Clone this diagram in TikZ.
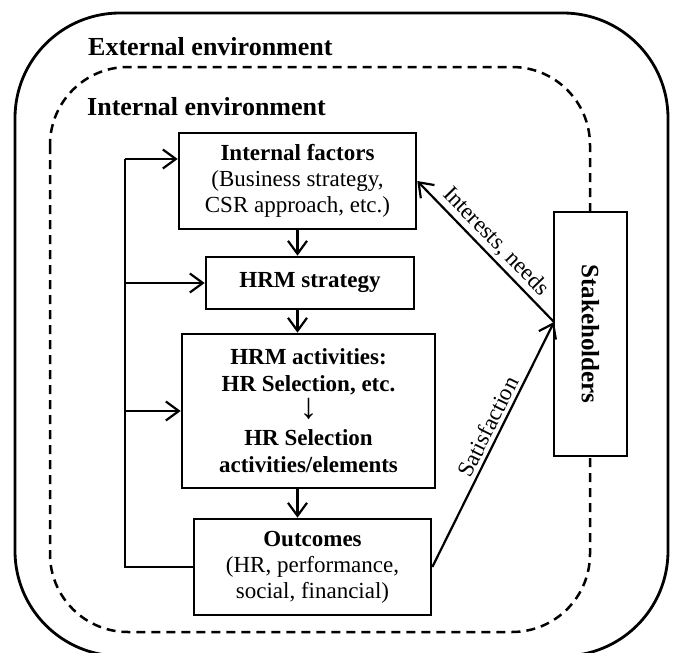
\documentclass[tikz,border=0pt]{standalone}
\usepackage{fontspec}
\setmainfont{Liberation Serif}
\usetikzlibrary{arrows.meta}
\tikzset{
  box/.style={draw, line width=2.6pt, fill=white, align=center, inner sep=0pt, font=\fontsize{23}{26}\selectfont},
  boldbox/.style={box, font=\fontsize{23}{27}\selectfont\bfseries},
  envlabel/.style={inner sep=0pt, font=\fontsize{26}{30}\selectfont\bfseries},
  arclabel/.style={font=\fontsize{23}{26}\selectfont},
  flow/.style={line width=2.2pt, -{Straight Barb[length=13pt,width=19pt]}},
  fback/.style={line width=1.4pt}
}
\begin{document}
\begin{tikzpicture}[x=1pt,y=-1pt]
    \clip (0,0) rectangle (675,653);
    \draw[line width=2.8pt, rounded corners=105pt] (15,13) rectangle (668,656);
    \draw[line width=2.5pt, dash pattern=on 9pt off 6pt, rounded corners=78pt] (50,67) rectangle (590,632);

    \node[envlabel, anchor=base west] (ext) at (88,55) {External environment};
    \node[envlabel, anchor=base west] (int) at (87,115) {Internal environment};

    \node[box, minimum width=237pt, minimum height=96pt] (factors) at (297.5,181) {\textbf{Internal factors}\\(Business strategy,\\CSR approach, etc.)};
    \node[boldbox, minimum width=208pt, minimum height=52pt] (strategy) at (310,283) {HRM strategy};
    \node[boldbox, minimum width=253pt, minimum height=154pt] (activities) at (308.5,411) {HRM activities:\\HR Selection, etc.\\\smash{\fontsize{36}{27}\selectfont ↓}\\HR Selection\\activities/elements};
    \node[box, minimum width=237pt, minimum height=96pt] (outcomes) at (312.5,567) {\textbf{Outcomes}\\(HR, performance,\\social, financial)};
    \node[box, minimum width=73pt, minimum height=244pt] (stake) at (590.5,334) {};
    \node[rotate=-90, font=\fontsize{25}{28}\selectfont\bfseries] (staketext) at (stake) {Stakeholders};

    \coordinate (meet) at (554,322);
    \coordinate (fbtop) at (125,159);
    \coordinate (fbbot) at (125,567);

    \draw[flow] (factors.south) -- (factors.south |- strategy.north);
    \draw[flow] (strategy.south -| factors.south) -- (activities.north -| factors.south);
    \draw[flow] (activities.south -| factors.south) -- (outcomes.north -| factors.south);

    \draw[fback] (outcomes.west) -- (fbbot) -- (fbtop);
    \draw[flow] (fbtop) -- (fbtop -| factors.west);
    \draw[flow] (strategy.west -| fbtop) -- (strategy.west);
    \draw[flow] (activities.west -| fbtop) -- (activities.west);

    \draw[flow, {Straight Barb[length=13pt,width=19pt]}-] (factors.east) -- (meet) node[midway, above, sloped, arclabel] {Interests, needs};
    \draw[flow] (outcomes.east) -- (meet) node[pos=0.55, above, sloped, arclabel] {Satisfaction};
\end{tikzpicture}
\end{document}
